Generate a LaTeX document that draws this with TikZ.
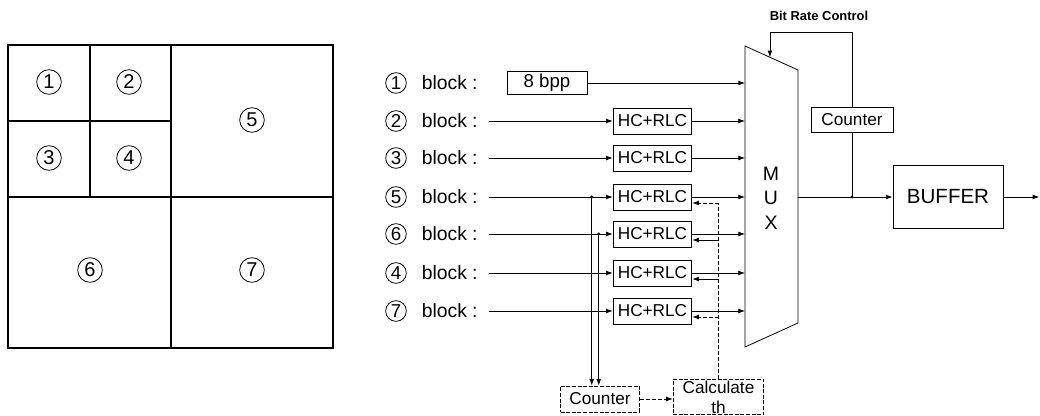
\documentclass[tikz,border=0pt]{standalone}
\usepackage{fontspec}
\setmainfont{Liberation Sans}
\usetikzlibrary{arrows.meta, positioning, calc}

\begin{document}
\begin{tikzpicture}[x=0.75pt, y=-0.75pt, line width=0.6pt,
  arr/.style={-{Latex[length=5pt,width=3.6pt]}},
  cnum/.style={circle, draw, line width=0.6pt, inner sep=0pt, minimum size=15.5pt, font=\fontsize{14}{15}\selectfont},
  gnum/.style={cnum, minimum size=18.5pt, font=\fontsize{15}{16}\selectfont},
  blk/.style={font=\fontsize{14.5}{16}\selectfont, inner sep=2pt},
  proc/.style={draw, minimum width=59pt, minimum height=19.5pt, inner sep=1pt, font=\fontsize{12.9}{14}\selectfont},
  dproc/.style={proc, dash pattern=on 3pt off 1.2pt},
  fb/.style={dash pattern=on 3pt off 1.5pt}]
  \useasboundingbox (0,0) rectangle (1040,416);

  % Block partition
  \draw[line width=1pt] (8,45) rectangle (333,348);
  \draw[line width=1pt] (171,45) -- (171,348) (8,197) -- (333,197)
    (90,45) -- (90,197) (8,121) -- (171,121);
  \foreach \n/\x/\y in {1/49/82, 2/129/82, 3/49/158, 4/129/158, 5/252/120, 6/90/270, 7/252/270}
    \node[gnum] (g\n) at (\x,\y) {\n};

  % Row labels
  \foreach \n/\y in {1/83, 2/121, 3/158, 5/197, 6/234, 4/273, 7/311} {
    \node[cnum] (c\n) at (396,\y) {\n};
    \node[blk, right=9pt of c\n] (lab\n) {block\hspace{4pt}:};
  }

  % MUX
  \draw (745,46) coordinate (muxtl) -- (798,70) coordinate (muxtr)
    -- (798,323) coordinate (muxbr) -- (745,347) coordinate (muxbl) -- cycle;
  \node[align=center, font=\fontsize{14.6}{18.4}\selectfont] (mux) at (771,198) {M\\U\\X};

  % Block 1 is sent raw
  \node[proc, minimum width=60pt, minimum height=17pt, font=\fontsize{14}{16}\selectfont] (bpp) at (547,83) {8 bpp};
  \draw[arr] (bpp.east) -- (bpp.east -| muxtl);

  % HC+RLC coders
  \foreach \n/\y in {2/121, 3/158, 5/197, 6/234, 4/273, 7/311} {
    \node[proc] (hc\n) at (652.5,\y) {HC+RLC};
    \draw[arr] ([xshift=6pt]lab\n.east) -- (hc\n.west);
    \draw[arr] (hc\n.east) -- (hc\n.east -| muxtl);
  }

  % Counter and threshold
  \node[dproc] (cntb) at (600,399) {Counter};
  \node[dproc, align=center, minimum width=68pt, minimum height=25.5pt,
    font=\fontsize{12.9}{15}\selectfont] (calc) at (718.5,397) {Calculate\\th};
  \coordinate (j5) at ($(hc5.west)+(-21,0)$);
  \coordinate (j6) at ($(hc6.west)+(-14,0)$);
  \draw[arr] (j5) -- (j5 |- cntb.north);
  \draw[arr] (j6) -- (j6 |- cntb.north);
  \fill (j5) circle (1.2pt) (j6) circle (1.2pt);
  \draw[arr, fb] (cntb.east) -- (cntb.east -| calc.west);

  % Threshold feedback
  \coordinate (fbtop) at ($(hc5.east)+(0,6)$);
  \draw[fb] (calc.north) -- (calc.north |- fbtop);
  \foreach \n/\s in {5/fb, 6/solid, 4/solid, 7/fb} {
    \coordinate (fb\n) at ($(hc\n.east)+(0,6)$);
    \draw[arr, \s] (calc.north |- fb\n) -- (fb\n);
  }

  % Output side
  \node[draw, minimum width=82.5pt, minimum height=47pt, font=\fontsize{15.4}{17}\selectfont] (buf) at (948,197) {BUFFER};
  \node[draw, minimum width=61.5pt, minimum height=18.75pt, font=\fontsize{12.9}{14}\selectfont] (cntr) at (852,120) {Counter};
  \coordinate (jo) at (cntr.south |- buf.west);
  \coordinate (out) at ($(buf.east)+(36,0)$);
  \draw[arr] (buf.west -| muxtr) -- (buf.west);
  \draw (cntr.south) -- (jo);
  \fill (jo) circle (1.2pt);
  \draw[arr] (buf.east) -- (out);

  % Bit rate control
  \coordinate (sel) at ($(muxtl)!0.47!(muxtr)$);
  \coordinate (brc) at ($(cntr.north)+(0,-75)$);
  \draw[arr] (cntr.north) -- (brc) -| (sel);
  \node[font=\bfseries\fontsize{9.7}{11}\selectfont] (brclab) at (819,16) {Bit Rate Control};
\end{tikzpicture}
\end{document}
